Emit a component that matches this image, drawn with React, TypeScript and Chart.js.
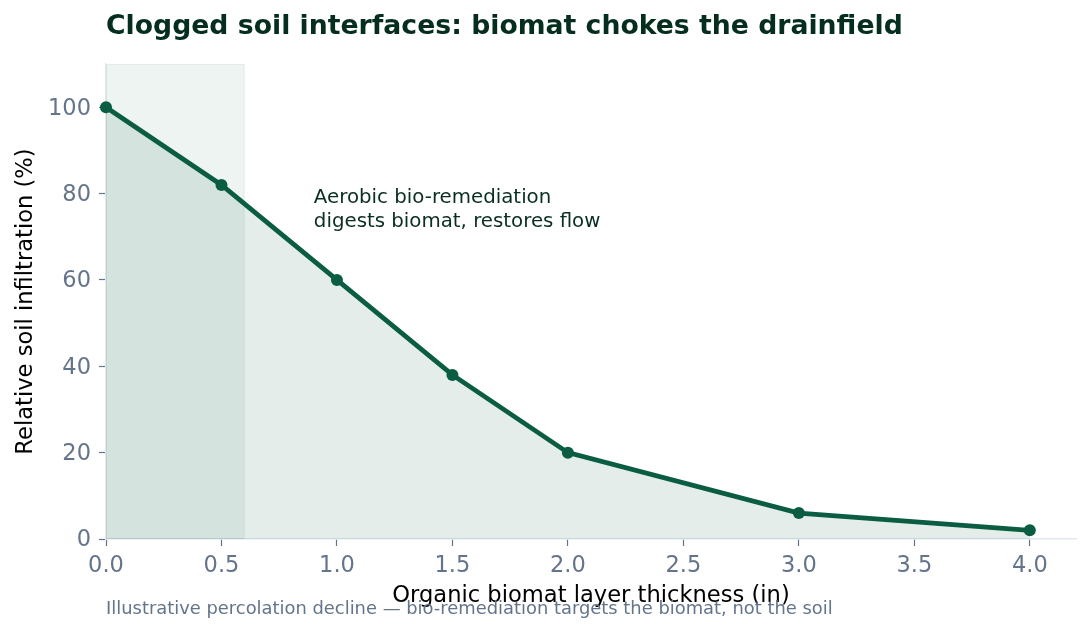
import React, { useEffect, useRef } from "react";
import { Chart, registerables } from "chart.js";

Chart.register(...registerables);

const thickness = [0, 0.5, 1.0, 1.5, 2.0, 3.0, 4.0];
const infiltration = [100, 82, 60, 38, 20, 6, 2];
const xTicks = [0, 0.5, 1.0, 1.5, 2.0, 2.5, 3.0, 3.5, 4.0];
const yTicks = [0, 20, 40, 60, 80, 100];
const bandRange = [0, 0.6];
const annotationAnchor = [0.9, 81.5];
const annotationLines = ["Aerobic bio-remediation", "digests biomat, restores flow"];
const titleText = "Clogged soil interfaces: biomat chokes the drainfield";
const xTitle = "Organic biomat layer thickness (in)";
const yTitle = "Relative soil infiltration (%)";
const footerText = "Illustrative percolation decline \u2014 bio-remediation targets the biomat, not the soil";

const FONT = "'DejaVu Sans', sans-serif";
const LINE = "#0a5c42";
const TICK = "#64748b";
const SPINE = "#e2e8f0";

export default function App() {
  const ref = useRef<HTMLCanvasElement | null>(null);

  useEffect(() => {
    if (!ref.current) return;
    const decor = {
      id: "decor",
      beforeDatasetsDraw(chart: any) {
        const { ctx, chartArea, scales } = chart;
        const x0 = scales.x.getPixelForValue(bandRange[0]);
        const x1 = scales.x.getPixelForValue(bandRange[1]);
        ctx.save();
        ctx.fillStyle = "rgba(11,94,68,0.07)";
        ctx.fillRect(x0, chartArea.top, x1 - x0, chartArea.bottom - chartArea.top);
        ctx.strokeStyle = "rgba(11,94,68,0.06)";
        ctx.lineWidth = 1;
        ctx.strokeRect(x0 + 0.5, chartArea.top + 0.5, x1 - x0 - 1, chartArea.bottom - chartArea.top - 1);
        ctx.restore();
      },
      afterDraw(chart: any) {
        const { ctx, chartArea, scales } = chart;
        ctx.save();
        // title
        ctx.fillStyle = "#052e1f";
        ctx.font = `bold 26.7px ${FONT}`;
        ctx.textAlign = "left";
        ctx.textBaseline = "alphabetic";
        ctx.fillText(titleText, chartArea.left, 33.5);
        // annotation
        ctx.fillStyle = "#0a2e22";
        ctx.font = `19.8px ${FONT}`;
        const ax = scales.x.getPixelForValue(annotationAnchor[0]);
        const ay = scales.y.getPixelForValue(annotationAnchor[1]);
        annotationLines.forEach((l, i) => ctx.fillText(l, ax, ay + 15.5 + i * 24));
        // x title
        ctx.fillStyle = "#000000";
        ctx.font = `22.6px ${FONT}`;
        ctx.textAlign = "center";
        ctx.fillText(xTitle, (chartArea.left + chartArea.right) / 2, 601.5);
        // y title
        ctx.save();
        ctx.translate(32, (chartArea.top + chartArea.bottom) / 2);
        ctx.rotate(-Math.PI / 2);
        ctx.fillText(yTitle, 0, 0);
        ctx.restore();
        // footer
        ctx.fillStyle = TICK;
        ctx.font = `17.9px ${FONT}`;
        ctx.textAlign = "left";
        ctx.fillText(footerText, chartArea.left, 614);
        ctx.restore();
      },
    };

    const chart = new Chart(ref.current, {
      type: "line",
      data: {
        datasets: [
          {
            data: thickness.map((x, i) => ({ x, y: infiltration[i] })),
            borderColor: LINE,
            backgroundColor: "rgba(11,94,68,0.11)",
            borderWidth: 4.8,
            fill: "origin",
            tension: 0,
            pointRadius: 6,
            pointBackgroundColor: LINE,
            pointBorderWidth: 0,
            clip: false as any,
          },
        ],
      },
      options: {
        animation: false,
        responsive: true,
        maintainAspectRatio: false,
        layout: { padding: { top: 64, right: 14, left: 0, bottom: 0 } },
        plugins: { legend: { display: false }, title: { display: false }, tooltip: { enabled: false } },
        scales: {
          x: {
            type: "linear",
            min: 0,
            max: 4.2,
            afterBuildTicks: (s: any) => {
              s.ticks = xTicks.map((v) => ({ value: v }));
            },
            afterFit: (s: any) => {
              s.height = 95;
            },
            ticks: {
              color: TICK,
              font: { family: FONT, size: 22.5 },
              padding: 7,
              maxRotation: 0,
              autoSkip: false,
              callback: (v: any) => Number(v).toFixed(1),
            },
            grid: { drawOnChartArea: false, drawTicks: true, tickLength: 7, tickColor: TICK, tickWidth: 1.2 },
            border: { display: true, color: SPINE, width: 1.5 },
          },
          y: {
            type: "linear",
            min: 0,
            max: 110,
            afterBuildTicks: (s: any) => {
              s.ticks = yTicks.map((v) => ({ value: v }));
            },
            afterFit: (s: any) => {
              s.width = 106;
            },
            ticks: {
              color: TICK,
              font: { family: FONT, size: 22.5 },
              padding: 8,
              labelOffset: 1.5,
              autoSkip: false,
              callback: (v: any) => String(v),
            },
            grid: { drawOnChartArea: false, drawTicks: true, tickLength: 7, tickColor: TICK, tickWidth: 1.2 },
            border: { display: true, color: SPINE, width: 1.5 },
          },
        },
      },
      plugins: [decor],
    } as any);
    return () => chart.destroy();
  }, []);

  return (
    <div style={{ position: "absolute", left: 0, top: 0, width: 1090, height: 634, background: "#ffffff" }}>
      <canvas ref={ref} />
    </div>
  );
}
